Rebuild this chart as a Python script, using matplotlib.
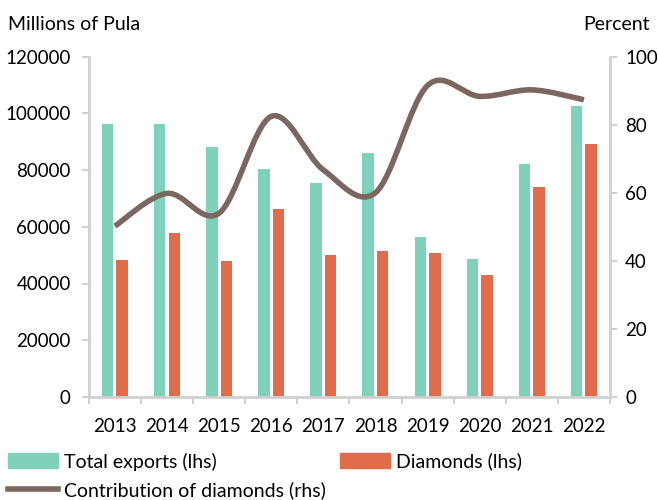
import numpy as np
import matplotlib
matplotlib.use("Agg")
import matplotlib.pyplot as plt
from matplotlib.path import Path
from matplotlib.patches import PathPatch
from matplotlib.lines import Line2D
from matplotlib.patches import Patch

plt.rcParams['font.family'] = ['Lato', 'DejaVu Sans']

# data
years = ["2013", "2014", "2015", "2016", "2017", "2018", "2019", "2020", "2021", "2022"]
total_exports = [96200, 96100, 88200, 80400, 75300, 86000, 56300, 48800, 82100, 102500]
diamonds = [48300, 57700, 47800, 66200, 50000, 51400, 50700, 43000, 73900, 89200]
contribution = [50.2, 59.8, 54.0, 82.4, 66.7, 60.0, 91.5, 88.3, 90.2, 87.3]

green = "#7fd1b9"
orange = "#e06c4c"
brown = "#7a6762"
grey = "#d0d0d0"

fig = plt.figure(figsize=(6.58, 5.0), dpi=100)
ax = fig.add_axes([0.135, 0.206, 0.792, 0.681])
ax2 = ax.twinx()

x = np.arange(len(years))
w = 0.22
ax.bar(x - 0.14, total_exports, w, color=green, zorder=2)
ax.bar(x + 0.14, diamonds, w, color=orange, zorder=2)

# smoothed line (bezier like excel)
p = np.column_stack([x, contribution]).astype(float)
verts = [p[0]]
codes = [Path.MOVETO]
n = len(p)
for i in range(n - 1):
    p0 = p[i - 1] if i > 0 else p[i]
    p3 = p[i + 2] if i + 2 < n else p[i + 1]
    c1 = p[i] + (p[i + 1] - p0) / 6
    c2 = p[i + 1] - (p3 - p[i]) / 6
    verts += [c1, c2, p[i + 1]]
    codes += [Path.CURVE4] * 3
ax2.add_patch(PathPatch(Path(verts, codes), fill=False, edgecolor=brown,
                        lw=4, capstyle='butt', zorder=3))

fs = 13.5
ax.set_xlim(-0.5, 9.5)
ax.set_ylim(0, 120000)
ax2.set_ylim(0, 100)
ax.set_yticks(range(0, 120001, 20000))
ax2.set_yticks(range(0, 101, 20))
ax.set_xticks(x)
ax.set_xticklabels(years)
ax.set_xticks(np.arange(-0.5, 10, 1), minor=True)
ax.tick_params(axis='x', which='major', length=0, pad=15, labelsize=fs)
ax.tick_params(axis='x', which='minor', length=5, color=grey, width=1.5)
ax.tick_params(axis='y', length=5, color=grey, width=1.5, labelsize=fs, pad=8)
ax2.tick_params(axis='y', length=5, color=grey, width=1.5, labelsize=fs, pad=6)

for a in (ax, ax2):
    for s in a.spines.values():
        s.set_visible(False)
ax.spines['left'].set_visible(True)
ax.spines['bottom'].set_visible(True)
ax2.spines['right'].set_visible(True)
for s in (ax.spines['left'], ax.spines['bottom'], ax2.spines['right']):
    s.set_color(grey)
    s.set_linewidth(2)

fig.text(0.012, 0.94, "Millions of Pula", fontsize=14)
fig.text(0.988, 0.94, "Percent", fontsize=14, ha='right')

handles = [Patch(color=green), Line2D([], [], color=brown, lw=4),
           Patch(color=orange)]
labels = ["Total exports (lhs)", "Contribution of diamonds (rhs)", "Diamonds (lhs)"]
fig.legend(handles, labels, ncol=2, loc='lower left', bbox_to_anchor=(0.006, -0.006),
           frameon=False, fontsize=14, handlelength=2.6, handleheight=0.8,
           handletextpad=0.3, columnspacing=0.7, labelspacing=0.55,
           borderpad=0.2, borderaxespad=0)

fig.savefig("out.png", dpi=100)
